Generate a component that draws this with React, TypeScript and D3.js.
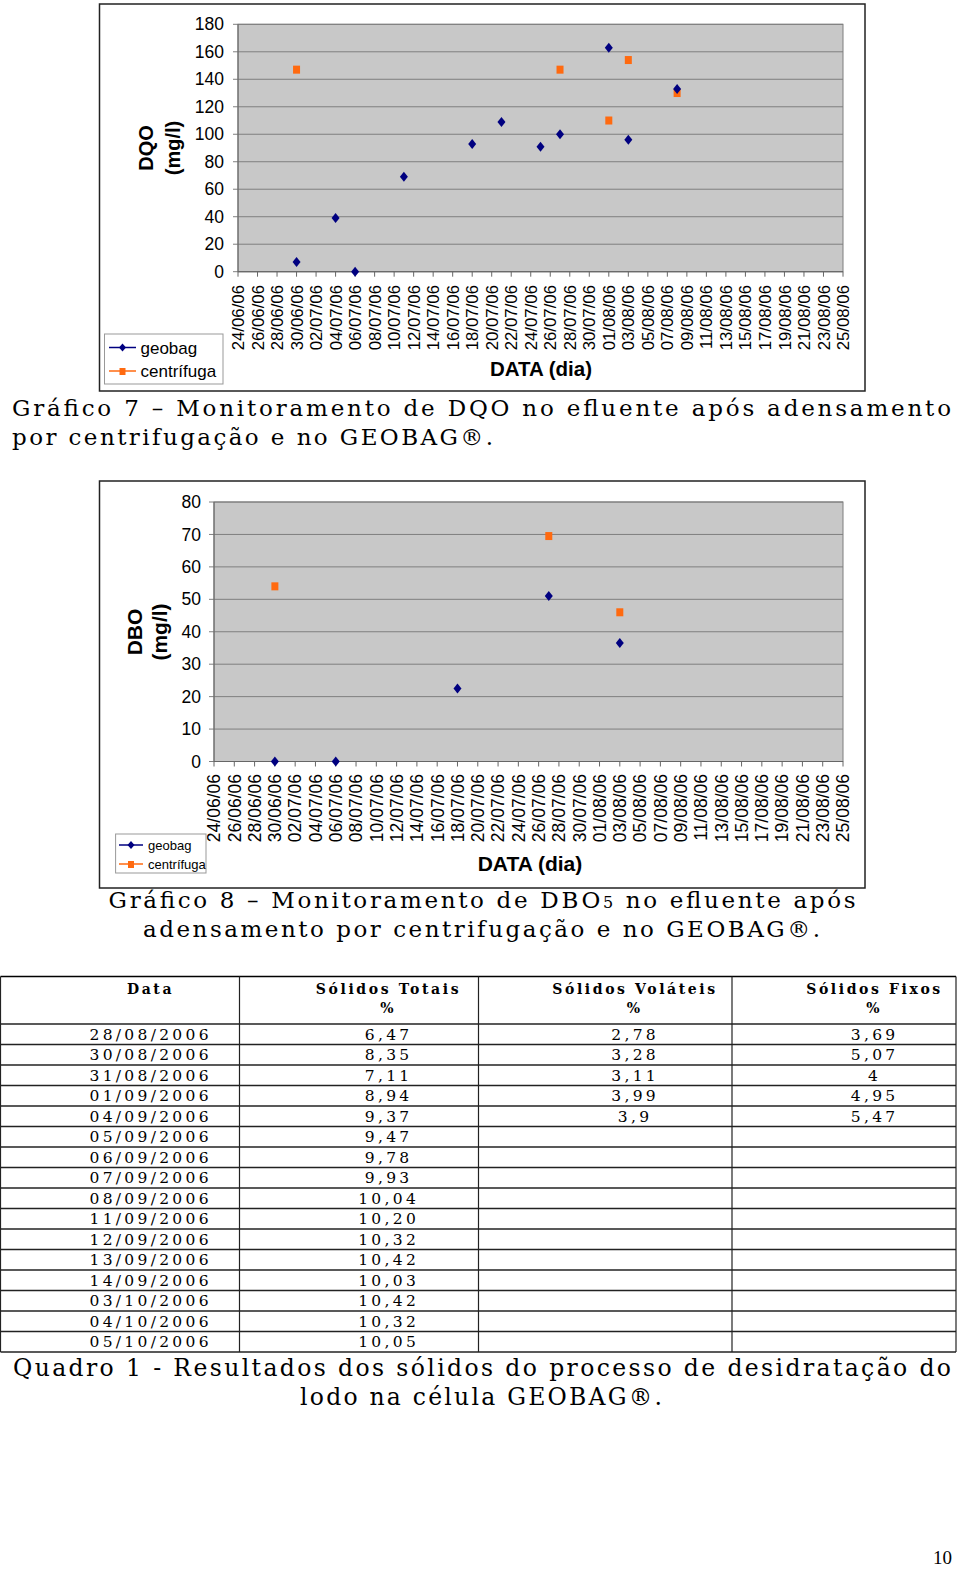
import React from "react";
import * as d3 from "d3";

// ---------- DATA ----------
const dateTicks = [
  "24/06/06", "26/06/06", "28/06/06", "30/06/06", "02/07/06", "04/07/06", "06/07/06", "08/07/06",
  "10/07/06", "12/07/06", "14/07/06", "16/07/06", "18/07/06", "20/07/06", "22/07/06", "24/07/06",
  "26/07/06", "28/07/06", "30/07/06", "01/08/06", "03/08/06", "05/08/06", "07/08/06", "09/08/06",
  "11/08/06", "13/08/06", "15/08/06", "17/08/06", "19/08/06", "21/08/06", "23/08/06", "25/08/06",
];

const dqoGeobagDates = ["30/06/06", "04/07/06", "06/07/06", "11/07/06", "18/07/06", "21/07/06", "25/07/06", "27/07/06", "01/08/06", "03/08/06", "08/08/06"];
const dqoGeobagValues = [7, 39, 0, 69, 93, 109, 91, 100, 163, 96, 133];
const dqoCentrifugaDates = ["30/06/06", "27/07/06", "01/08/06", "03/08/06", "08/08/06"];
const dqoCentrifugaValues = [147, 147, 110, 154, 130];
const dqoYTicks = [0, 20, 40, 60, 80, 100, 120, 140, 160, 180];

const dboGeobagDates = ["30/06/06", "06/07/06", "18/07/06", "27/07/06", "03/08/06"];
const dboGeobagValues = [0, 0, 22.5, 51, 36.5];
const dboCentrifugaDates = ["30/06/06", "27/07/06", "03/08/06"];
const dboCentrifugaValues = [54, 69.5, 46];
const dboYTicks = [0, 10, 20, 30, 40, 50, 60, 70, 80];

const seriesNames = ["geobag", "centrífuga"];

const tableHeaders = [
  ["Data", ""],
  ["Sólidos Totais", "%"],
  ["Sólidos Voláteis", "%"],
  ["Sólidos Fixos", "%"],
];
const tableDates = [
  "28/08/2006", "30/08/2006", "31/08/2006", "01/09/2006", "04/09/2006", "05/09/2006", "06/09/2006", "07/09/2006",
  "08/09/2006", "11/09/2006", "12/09/2006", "13/09/2006", "14/09/2006", "03/10/2006", "04/10/2006", "05/10/2006",
];
const solidosTotais = ["6,47", "8,35", "7,11", "8,94", "9,37", "9,47", "9,78", "9,93", "10,04", "10,20", "10,32", "10,42", "10,03", "10,42", "10,32", "10,05"];
const solidosVolateis = ["2,78", "3,28", "3,11", "3,99", "3,9"];
const solidosFixos = ["3,69", "5,07", "4", "4,95", "5,47"];

// ---------- STYLE ----------
const NAVY = "#000080";
const ORANGE = "#ff6a10";
const PLOT_BG = "#c8c8c8";
const GRID = "#7f7f7f";
const SANS = "'Liberation Sans', Arial, sans-serif";
const SERIF = "'DejaVu Serif', 'Liberation Serif', serif";
const TIMES = "'Liberation Serif', 'Times New Roman', serif";

const parse = d3.timeParse("%d/%m/%y");

function Diamond({ x, y, w = 4, h = 5 }: { x: number; y: number; w?: number; h?: number }) {
  return <path d={`M${x},${y - h}L${x + w},${y}L${x},${y + h}L${x - w},${y}Z`} fill={NAVY} />;
}
function Square({ x, y, s = 7 }: { x: number; y: number; s?: number }) {
  return <rect x={x - s / 2} y={y - s / 2 - 0.5} width={s} height={s + 1} fill={ORANGE} />;
}

type ChartCfg = {
  box: { x0: number; y0: number; x1: number; y1: number };
  plot: { left: number; right: number; top: number; bottom: number };
  yTicks: number[];
  yLabelX: number;
  yLabelSize: number;
  yTitle: string;
  yTitleX: [number, number];
  yTitleY: number;
  yTitleSize: number;
  xLabelY: number;
  xLabelSize: number;
  xTitleX: number;
  xTitleY: number;
  xTitleSize: number;
  geoDates: string[];
  geoVals: number[];
  cenDates: string[];
  cenVals: number[];
  legend: { x0: number; y0: number; x1: number; y1: number; size: number; rowY: [number, number]; textX: number; lineX: [number, number] };
};

function ScatterChart({ c }: { c: ChartCfg }) {
  const x = d3
    .scaleTime()
    .domain([parse(dateTicks[0]) as Date, parse(dateTicks[dateTicks.length - 1]) as Date])
    .range([c.plot.left, c.plot.right]);
  const yMax = c.yTicks[c.yTicks.length - 1];
  const y = d3.scaleLinear().domain([0, yMax]).range([c.plot.bottom, c.plot.top]);
  const L = c.legend;
  return (
    <g>
      <rect x={c.box.x0} y={c.box.y0} width={c.box.x1 - c.box.x0} height={c.box.y1 - c.box.y0} fill="#fff" stroke="#222" strokeWidth={1.5} />
      <rect x={c.plot.left} y={c.plot.top} width={c.plot.right - c.plot.left} height={c.plot.bottom - c.plot.top} fill={PLOT_BG} stroke={GRID} strokeWidth={1} />
      {c.yTicks.map((t) => (
        <g key={"g" + t}>
          <line x1={c.plot.left} x2={c.plot.right} y1={y(t)} y2={y(t)} stroke={GRID} strokeWidth={1} />
          <line x1={c.plot.left - 5} x2={c.plot.left} y1={y(t)} y2={y(t)} stroke={GRID} strokeWidth={1} />
          <text x={c.yLabelX} y={y(t)} dy="0.35em" textAnchor="end" fontFamily={SANS} fontSize={c.yLabelSize} fill="#000">
            {t}
          </text>
        </g>
      ))}
      <line x1={c.plot.left} x2={c.plot.left} y1={c.plot.top} y2={c.plot.bottom} stroke="#666" />
      <line x1={c.plot.left} x2={c.plot.right} y1={c.plot.bottom} y2={c.plot.bottom} stroke="#666" />
      {dateTicks.map((d) => {
        const px = x(parse(d) as Date);
        return (
          <g key={d}>
            <line x1={px} x2={px} y1={c.plot.bottom} y2={c.plot.bottom + 5} stroke="#666" />
            <text
              transform={`translate(${px},${c.xLabelY}) rotate(-90)`}
              textAnchor="end"
              dy="0.36em"
              fontFamily={SANS}
              fontSize={c.xLabelSize}
              fill="#000"
            >
              {d}
            </text>
          </g>
        );
      })}
      {c.yTitle.split("|").map((s, i) => (
        <text
          key={s}
          transform={`translate(${c.yTitleX[i]},${c.yTitleY}) rotate(-90)`}
          textAnchor="middle"
          dy="0.36em"
          fontFamily={SANS}
          fontWeight="bold"
          fontSize={c.yTitleSize}
        >
          {s}
        </text>
      ))}
      <text x={c.xTitleX} y={c.xTitleY} dy="0.36em" textAnchor="middle" fontFamily={SANS} fontWeight="bold" fontSize={c.xTitleSize}>
        DATA (dia)
      </text>
      {c.cenDates.map((d, i) => (
        <Square key={"c" + d} x={x(parse(d) as Date)} y={y(c.cenVals[i])} />
      ))}
      {c.geoDates.map((d, i) => (
        <Diamond key={"d" + d} x={x(parse(d) as Date)} y={y(c.geoVals[i])} />
      ))}
      {/* legend */}
      <rect x={L.x0} y={L.y0} width={L.x1 - L.x0} height={L.y1 - L.y0} fill="#fff" stroke="#999" strokeWidth={1} />
      {seriesNames.map((s, i) => {
        const ly = L.rowY[i];
        const mx = (L.lineX[0] + L.lineX[1]) / 2;
        return (
          <g key={s}>
            <line x1={L.lineX[0]} x2={L.lineX[1]} y1={ly} y2={ly} stroke={i === 0 ? NAVY : ORANGE} strokeWidth={1.5} />
            {i === 0 ? <Diamond x={mx} y={ly} w={3.5} h={4} /> : <Square x={mx} y={ly + 0.5} s={6} />}
            <text x={L.textX} y={ly} dy="0.36em" fontFamily={SANS} fontSize={L.size}>
              {s}
            </text>
          </g>
        );
      })}
    </g>
  );
}

const chart1: ChartCfg = {
  box: { x0: 99.5, y0: 4, x1: 865, y1: 391 },
  plot: { left: 238, right: 843, top: 24.3, bottom: 271.7 },
  yTicks: dqoYTicks,
  yLabelX: 224,
  yLabelSize: 17.5,
  yTitle: "DQO|(mg/l)",
  yTitleX: [146, 173],
  yTitleY: 148,
  yTitleSize: 20,
  xLabelY: 285,
  xLabelSize: 16.8,
  xTitleX: 541,
  xTitleY: 369,
  xTitleSize: 20.5,
  geoDates: dqoGeobagDates,
  geoVals: dqoGeobagValues,
  cenDates: dqoCentrifugaDates,
  cenVals: dqoCentrifugaValues,
  legend: { x0: 104.5, y0: 334, x1: 223, y1: 384, size: 17, rowY: [347.5, 371], textX: 140.5, lineX: [109, 136] },
};

const chart2: ChartCfg = {
  box: { x0: 99.5, y0: 481, x1: 865, y1: 888 },
  plot: { left: 214, right: 843, top: 502, bottom: 761.5 },
  yTicks: dboYTicks,
  yLabelX: 201,
  yLabelSize: 17.5,
  yTitle: "DBO|(mg/l)",
  yTitleX: [134, 159],
  yTitleY: 632,
  yTitleSize: 21,
  xLabelY: 774,
  xLabelSize: 17.5,
  xTitleX: 530,
  xTitleY: 863,
  xTitleSize: 21,
  geoDates: dboGeobagDates,
  geoVals: dboGeobagValues,
  cenDates: dboCentrifugaDates,
  cenVals: dboCentrifugaValues,
  legend: { x0: 115.6, y0: 834, x1: 206, y1: 873, size: 13, rowY: [845, 864], textX: 148, lineX: [119, 143] },
};

function Caption({ x, y, len, size, anchor = "start", children }: { x: number; y: number; len: number; size: number; anchor?: string; children: React.ReactNode }) {
  return (
    <text x={x} y={y} textLength={len} lengthAdjust="spacing" textAnchor={anchor as any} fontFamily={SERIF} fontSize={size} fill="#000">
      {children}
    </text>
  );
}

function Table() {
  const top = 976.5;
  const headBottom = 1024;
  const rowH = 20.5;
  const colX = [0.5, 239.5, 478.5, 732, 956];
  const centers = [149, 387, 633.5, 873];
  const bottom = headBottom + rowH * tableDates.length;
  const cols = [tableDates, solidosTotais, solidosVolateis, solidosFixos];
  const ls = 3.3;
  return (
    <g>
      <line x1={colX[0]} x2={colX[4]} y1={top} y2={top} stroke="#000" strokeWidth={1.5} />
      {d3.range(tableDates.length + 1).map((i) => (
        <line key={"r" + i} x1={colX[0]} x2={colX[4]} y1={headBottom + i * rowH} y2={headBottom + i * rowH} stroke="#222" strokeWidth={1.3} />
      ))}
      {colX.map((cx, i) => (
        <line key={"c" + i} x1={cx} x2={cx} y1={top} y2={bottom} stroke="#222" strokeWidth={1.2} />
      ))}
      {tableHeaders.map((h, i) => (
        <g key={"h" + i}>
          <text x={centers[i] + 1.5} y={993.5} textAnchor="middle" fontFamily={SERIF} fontWeight="bold" fontSize={14} letterSpacing={2.6}>
            {h[0]}
          </text>
          <text x={centers[i]} y={1012.5} textAnchor="middle" fontFamily={SERIF} fontWeight="bold" fontSize={14}>
            {h[1]}
          </text>
        </g>
      ))}
      {cols.map((col, ci) =>
        col.map((v, ri) => (
          <text
            key={ci + "-" + ri}
            x={centers[ci] + ls / 2}
            y={headBottom + ri * rowH + 15.5}
            textAnchor="middle"
            fontFamily={SERIF}
            fontSize={15.5}
            letterSpacing={ls}
          >
            {v}
          </text>
        ))
      )}
    </g>
  );
}

export default function App() {
  return (
    <svg width={960} height={1577} viewBox="0 0 960 1577" style={{ position: "absolute", left: 0, top: 0, background: "#fff" }}>
      <rect width={960} height={1577} fill="#fff" />
      <ScatterChart c={chart1} />
      <Caption x={12} y={416} len={939} size={23}>Gráfico 7 – Monitoramento de DQO no efluente após adensamento</Caption>
      <Caption x={12} y={445} len={481} size={23}>por centrifugação e no GEOBAG®.</Caption>

      <ScatterChart c={chart2} />
      <Caption x={108.6} y={908} len={747} size={23}>
        Gráfico 8 – Monitoramento de DBO<tspan fontSize={16}>5</tspan> no efluente após
      </Caption>
      <Caption x={143} y={937} len={677} size={23}>adensamento por centrifugação e no GEOBAG®.</Caption>

      <Table />
      <Caption x={13} y={1376} len={938} size={23.5}>Quadro 1 - Resultados dos sólidos do processo de desidratação do</Caption>
      <Caption x={300} y={1405} len={362} size={23.5}>lodo na célula GEOBAG®.</Caption>

      <text x={933} y={1564} fontFamily={TIMES} fontSize={19}>10</text>
    </svg>
  );
}
